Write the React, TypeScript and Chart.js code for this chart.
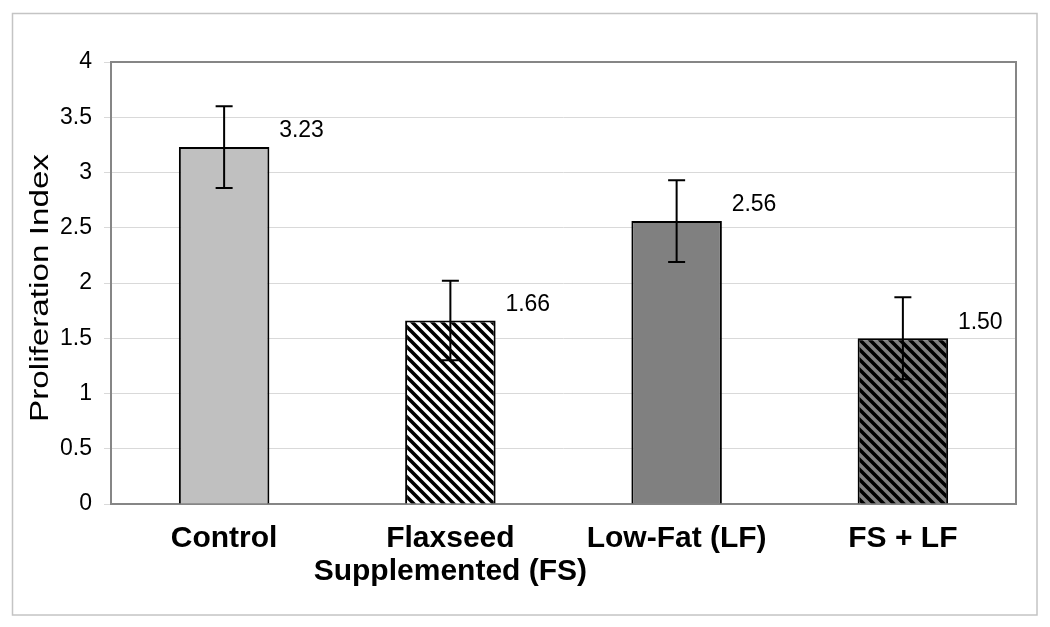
import React, { useEffect, useRef } from 'react';
import { Chart, registerables } from 'chart.js';

Chart.register(...registerables);

const categories: (string | string[])[] = ['Control', ['Flaxseed', 'Supplemented (FS)'], 'Low-Fat (LF)', 'FS + LF'];
const values = [3.23, 1.66, 2.56, 1.5];
const errors = [0.37, 0.36, 0.37, 0.37];
const yAxisTitle = 'Proliferation Index';
const yMin = 0;
const yMax = 4;
const yStep = 0.5;

const FONT = '"Liberation Sans", Arial, sans-serif';

function makeStripes(bg: string): CanvasPattern | string {
  const c = document.createElement('canvas');
  c.width = 10;
  c.height = 10;
  const g = c.getContext('2d');
  if (!g) return bg;
  g.fillStyle = bg;
  g.fillRect(0, 0, 10, 10);
  g.strokeStyle = '#000';
  g.lineWidth = 3.6;
  g.beginPath();
  g.moveTo(-5, -5);
  g.lineTo(15, 15);
  g.moveTo(-5, 5);
  g.lineTo(5, 15);
  g.moveTo(5, -5);
  g.lineTo(15, 5);
  g.stroke();
  return g.createPattern(c, 'repeat') || bg;
}

export default function App() {
  const ref = useRef<HTMLCanvasElement | null>(null);

  useEffect(() => {
    const canvas = ref.current;
    if (!canvas) return;

    const fills = ['#c0c0c0', makeStripes('#ffffff'), '#808080', makeStripes('#808080')];

    const framePlugin = {
      id: 'frame',
      beforeDraw(chart: any) {
        const ctx = chart.ctx;
        ctx.save();
        ctx.fillStyle = '#ffffff';
        ctx.fillRect(0, 0, chart.width, chart.height);
        ctx.strokeStyle = '#c4c4c4';
        ctx.lineWidth = 1.5;
        ctx.strokeRect(12.5, 13.5, 1024.5, 601.5);
        ctx.restore();
      },
      beforeDatasetsDraw(chart: any) {
        const ctx = chart.ctx;
        const a = chart.chartArea;
        ctx.save();
        ctx.strokeStyle = '#868686';
        ctx.lineWidth = 2;
        ctx.strokeRect(a.left, a.top, a.right - a.left, a.bottom - a.top);
        ctx.restore();
      },
      afterDatasetsDraw(chart: any) {
        const ctx = chart.ctx;
        const ys = chart.scales.y;
        const meta = chart.getDatasetMeta(0);
        ctx.save();
        ctx.strokeStyle = '#000';
        ctx.lineWidth = 2;
        meta.data.forEach((el: any, i: number) => {
          const x = el.x;
          const yt = ys.getPixelForValue(values[i] + errors[i]);
          const yb = ys.getPixelForValue(values[i] - errors[i]);
          ctx.beginPath();
          ctx.moveTo(x, yt);
          ctx.lineTo(x, yb);
          ctx.moveTo(x - 8.5, yt);
          ctx.lineTo(x + 8.5, yt);
          ctx.moveTo(x - 8.5, yb);
          ctx.lineTo(x + 8.5, yb);
          ctx.stroke();
        });
        ctx.fillStyle = '#000';
        ctx.font = '23px ' + FONT;
        ctx.textAlign = 'left';
        ctx.textBaseline = 'middle';
        meta.data.forEach((el: any, i: number) => {
          ctx.fillText(values[i].toFixed(2), el.x + 55, ys.getPixelForValue(values[i]) - 16);
        });
        // y-axis title, stretched along its length
        ctx.translate(48, 288);
        ctx.rotate(-Math.PI / 2);
        ctx.scale(1.33, 1);
        ctx.font = '25px ' + FONT;
        ctx.textAlign = 'center';
        ctx.textBaseline = 'alphabetic';
        ctx.fillText(yAxisTitle, 0, 0);
        ctx.restore();
      },
    };

    const chart = new Chart(canvas, {
      type: 'bar',
      data: {
        labels: categories as any,
        datasets: [
          {
            data: values,
            backgroundColor: fills as any,
            borderColor: '#000000',
            borderWidth: 2,
            barPercentage: 0.4,
            categoryPercentage: 1,
          },
        ],
      },
      options: {
        animation: false,
        responsive: false,
        layout: { padding: { top: 62, right: 34, left: 0, bottom: 0 } },
        plugins: { legend: { display: false }, tooltip: { enabled: false } },
        scales: {
          x: {
            grid: { display: false, drawTicks: false },
            border: { display: false },
            ticks: {
              color: '#000',
              padding: 18,
              maxRotation: 0,
              autoSkip: false,
              font: { family: FONT, size: 30, weight: 'bold', lineHeight: 1.1 },
            },
            afterFit: (s: any) => {
              s.height = 123;
            },
          },
          y: {
            min: yMin,
            max: yMax,
            grid: { color: '#d9d9d9', lineWidth: 1, tickLength: 7, drawTicks: true },
            border: { display: false },
            ticks: {
              stepSize: yStep,
              color: '#000',
              padding: 12,
              font: { family: FONT, size: 23 },
              callback: (v: any) => String(Number(v)),
            },
            afterFit: (s: any) => {
              s.width = 111;
            },
          },
        },
      },
      plugins: [framePlugin],
    });

    return () => chart.destroy();
  }, []);

  return (
    <div style={{ position: 'absolute', left: 0, top: 0, width: 1050, height: 627 }}>
      <canvas ref={ref} width={1050} height={627} style={{ display: 'block' }} />
    </div>
  );
}
